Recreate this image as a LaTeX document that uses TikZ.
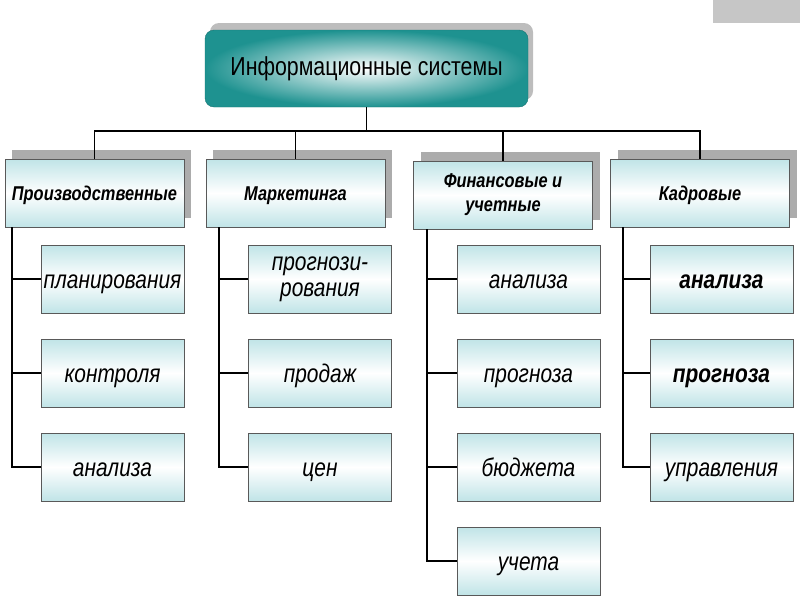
\documentclass[tikz,border=0pt]{standalone}
\usepackage{fontspec}
\setmainfont{Liberation Sans}[FakeStretch=0.82]
\usetikzlibrary{shadows}
\definecolor{TopClr}{RGB}{30,146,144}
\definecolor{BoxClr}{RGB}{192,228,231}
\definecolor{ShadowClr}{RGB}{172,172,172}

\begin{document}
\begin{tikzpicture}[x=1pt,y=-1pt,
  head/.style={draw=TopClr!80!black,rounded corners=9pt,inner color=white,outer color=TopClr,
    minimum width=323pt,minimum height=77pt,font=\fontsize{26}{30}\selectfont,
    drop shadow={shadow xshift=5pt,shadow yshift=7pt,fill=ShadowClr,opacity=.8}},
  box/.style={draw=black!65,line width=.8pt,top color=BoxClr,bottom color=BoxClr,middle color=white,
    inner sep=0pt,align=center,text depth=0pt},
  group/.style={box,minimum width=179pt,minimum height=68pt,text height=14pt,
    font=\fontsize{20}{24}\selectfont\bfseries\itshape,
    drop shadow={shadow xshift=7pt,shadow yshift=9pt,fill=ShadowClr,opacity=1}},
  item/.style={box,minimum width=143pt,minimum height=68pt,text height=18pt,
    font=\fontsize{25.5}{26}\selectfont\itshape},
  lines/.style={text height={},text depth={}},
  link/.style={line width=1.8pt}]
\useasboundingbox (0,0) rectangle (800,600);
\fill[gray!45] (713,0) rectangle (800,23);

\node[head] (I) at (366.5,68.5) {Информационные системы};

\node[group] (P) at (94.5,193) {Производственные};
\node[group] (M) at (295.5,193) {Маркетинга};
\node[group,lines] (F) at (503,195) {Финансовые и\\учетные};
\node[group] (K) at (700,193) {Кадровые};

\node[item] (P1) at (112.5,279) {планирования};
\node[item] (P2) at (112.5,373) {контроля};
\node[item] (P3) at (112.5,467) {анализа};

\node[item,lines] (M1) at (320,279) {прогнози-\\рования};
\node[item] (M2) at (320,373) {продаж};
\node[item] (M3) at (320,467) {цен};

\node[item] (F1) at (528.5,279) {анализа};
\node[item] (F2) at (528.5,373) {прогноза};
\node[item] (F3) at (528.5,467) {бюджета};
\node[item] (F4) at (528.5,561) {учета};

\node[item,font=\fontsize{25.5}{26}\selectfont\bfseries\itshape] (K1) at (721.5,279) {анализа};
\node[item,font=\fontsize{25.5}{26}\selectfont\bfseries\itshape] (K2) at (721.5,373) {прогноза};
\node[item] (K3) at (721.5,467) {управления};

\foreach \g in {P,M,F,K}
  \draw[link] (I.south) -- ++(0,24) -| (\g.north);

\foreach \g/\d/\n in {P/7/3,M/13/3,F/14/4,K/13/3}
  \foreach \i in {1,...,\n}
    \draw[link] ([xshift=\d]\g.south west) |- (\g\i.west);

\end{tikzpicture}
\end{document}
